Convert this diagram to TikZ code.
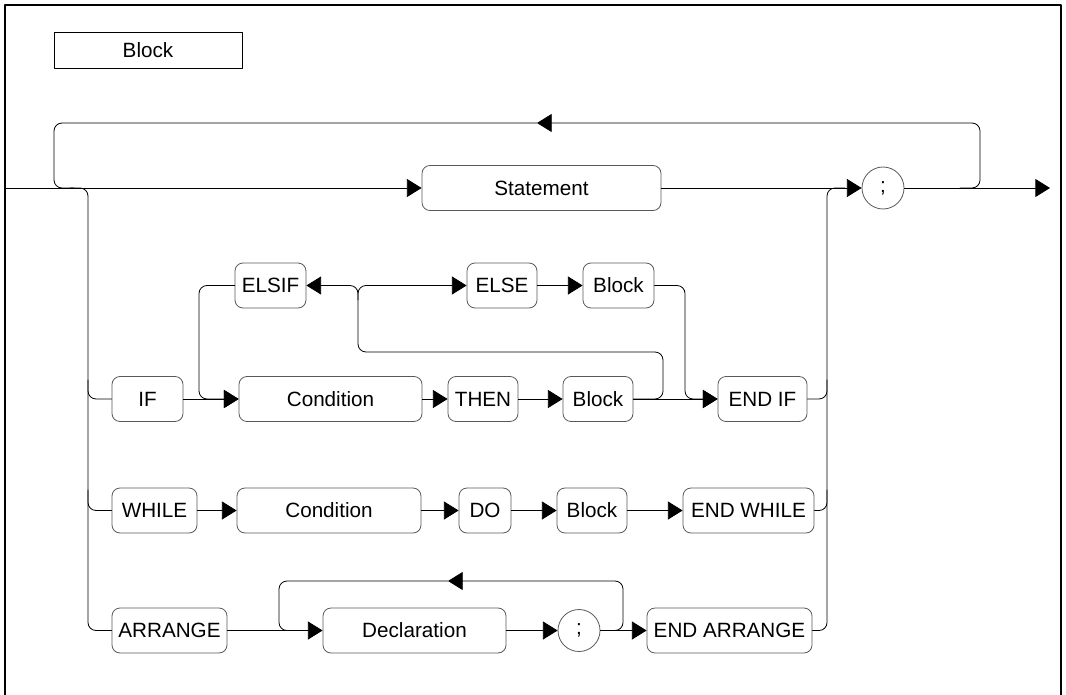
\documentclass[tikz,border=0pt]{standalone}
\usepackage{fontspec}
\setmainfont{Liberation Sans}
\usetikzlibrary{arrows.meta, positioning}

\begin{document}
\begin{tikzpicture}[x=0.75pt, y=-0.75pt, line join=round, line cap=round, line width=0.6pt,
    kw/.style={draw=black!65, rounded corners=6pt, minimum height=33.75pt, inner sep=1pt, font=\fontsize{15.5}{18}\selectfont},
    sym/.style={draw=black!65, circle, minimum size=31.5pt, inner sep=0pt, font=\fontsize{15.5}{18}\selectfont},
    flow/.style={-{Triangle[length=11pt, width=13.5pt]}},
    rail/.style={rounded corners=6pt}]
    \useasboundingbox (0,0) rectangle (1066,695);
    % frame
    \draw[line width=0.8pt] (5,695) -- (5,5) -- (1061,5) -- (1061,695);
    \node[draw, minimum width=141pt, minimum height=27pt, inner sep=0pt, font=\fontsize{15.5}{18}\selectfont] (title) at (148,50) {Block};
    \foreach \n/\x/\y/\w/\t in {stmt/541.5/188/239/Statement,
      if/147.5/399/71/IF, cond/330.5/399/183/Condition, then/483/399/70/THEN, blkthen/598/399/70/Block, endif/762.5/399/89/END IF,
      elsif/270.5/285.5/71/ELSIF, else/502/285.5/70/ELSE, blkelse/618.5/285.5/71/Block,
      while/154.5/510.5/85/WHILE, condw/329/510.5/184/Condition, do/485/510.5/52/DO, blkdo/592/510.5/70/Block, endwhile/748.5/510.5/131/END WHILE,
      arrange/169.5/630.5/115/ARRANGE, decl/414.5/630.5/183/Declaration, endarr/729.5/630.5/165/END ARRANGE} {
      \node[kw, minimum width=\w*0.75pt] (\n) at (\x,\y) {\t};
    }
    \node[sym] (semi) at (883,188) {;};
    \node[sym] (semid) at (579,630.5) {;};
    \coordinate (in) at (5,188);
    \coordinate (out) at (1050,188);
    \coordinate (back) at (537,123);
    \coordinate (backd) at (448,581);
    \coordinate (fork) at (358,285.5);
    % main line and repeat loop
    \draw[flow] (in) -- (stmt.west);
    \draw[flow] (stmt.east) -- (semi.west);
    \draw[flow] (semi.east) -- (out);
    \draw[rail, flow] (960,188) -- (980,188) -- (980,123) -- (back);
    \draw[rail] (back) -- (54,123) -- (54,188) -- (74,188);
    % rails of the alternatives
    \draw[rail] (70,188) -- (88,188) -- (88,630.5) -- (arrange.west);
    \draw[rail] (88,380) -- (88,399) -- (if.west);
    \draw[rail] (88,490) -- (88,510.5) -- (while.west);
    \draw[rail] (endarr.east) -- (827,630.5) -- (827,188) -- (845,188);
    \draw[rail] (endif.east) -- (827,399) -- (827,380);
    \draw[rail] (endwhile.east) -- (827,510.5) -- (827,490);
    \foreach \a/\b in {if/cond, cond/then, then/blkthen, blkthen/endif, else/blkelse,
      while/condw, condw/do, do/blkdo, blkdo/endwhile, arrange/decl, decl/semid, semid/endarr} {
      \draw[flow] (\a) -- (\b);
    }
    % IF loops
    \draw[rail, flow] (elsif.west) -- (199,285.5) -- (199,399) -- (cond.west);
    \draw[rail, flow] (blkthen.east) -- (663,399) -- (663,352) -- (358,352) -- (fork) -- (else.west);
    \draw[rail, flow] (358,300) -- (fork) -- (elsif.east);
    \draw[rail, flow] (blkelse.east) -- (685,285.5) -- (685,399) -- (endif.west);
    % declaration loop
    \draw[rail, flow] (semid.east) -- (623,630.5) -- (623,581) -- (backd);
    \draw[rail] (backd) -- (279,581) -- (279,630.5) -- (300,630.5);
\end{tikzpicture}
\end{document}
